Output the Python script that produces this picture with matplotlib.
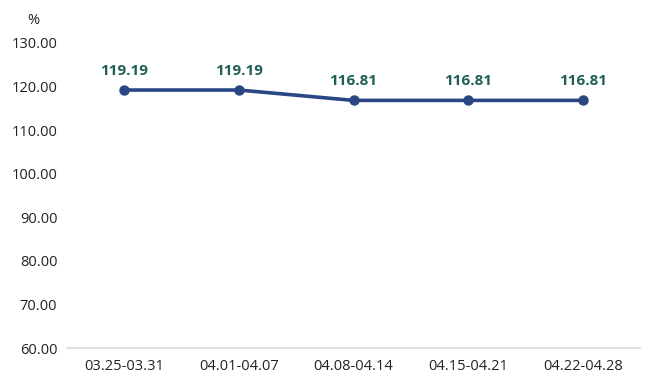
import matplotlib
matplotlib.use("Agg")
import matplotlib.pyplot as plt

categories = ["03.25-03.31", "04.01-04.07", "04.08-04.14", "04.15-04.21", "04.22-04.28"]
values = [119.19, 119.19, 116.81, 116.81, 116.81]
yticks = [60, 70, 80, 90, 100, 110, 120, 130]

plt.rcParams['font.family'] = ['Open Sans', 'DejaVu Sans']

fig = plt.figure(figsize=(6.6, 3.84), dpi=100)
ax = fig.add_axes([0.1015, 0.09375, 0.8685, 0.7945])
x = list(range(len(categories)))
ax.plot(x, values, color="#2a4683", lw=2.6, marker="o", ms=6.5, zorder=3)
for xi, v in zip(x, values):
    ax.annotate(f"{v:.2f}", (xi, v), xytext=(0, 9), textcoords="offset points",
                ha="center", va="bottom", color="#1f5f55", fontsize=11, fontweight="bold")
ax.set_xlim(-0.5, len(categories) - 0.5)
ax.set_ylim(60, 130)
ax.set_yticks(yticks)
ax.set_yticklabels([f"{t:.2f}" for t in yticks])
ax.set_xticks(x)
ax.set_xticklabels(categories)
for s in ["top", "right", "left"]:
    ax.spines[s].set_visible(False)
ax.spines["bottom"].set_color("#d9d9d9")
ax.spines["bottom"].set_linewidth(1.2)
ax.tick_params(axis="both", length=0, labelsize=10.5, colors="#222222")
ax.tick_params(axis="y", pad=7)
ax.tick_params(axis="x", pad=8)
fig.text(33/660, 1 - 20/384, "%", ha="center", va="center", fontsize=10.5, color="#222222")
fig.savefig("out.png", dpi=100)
